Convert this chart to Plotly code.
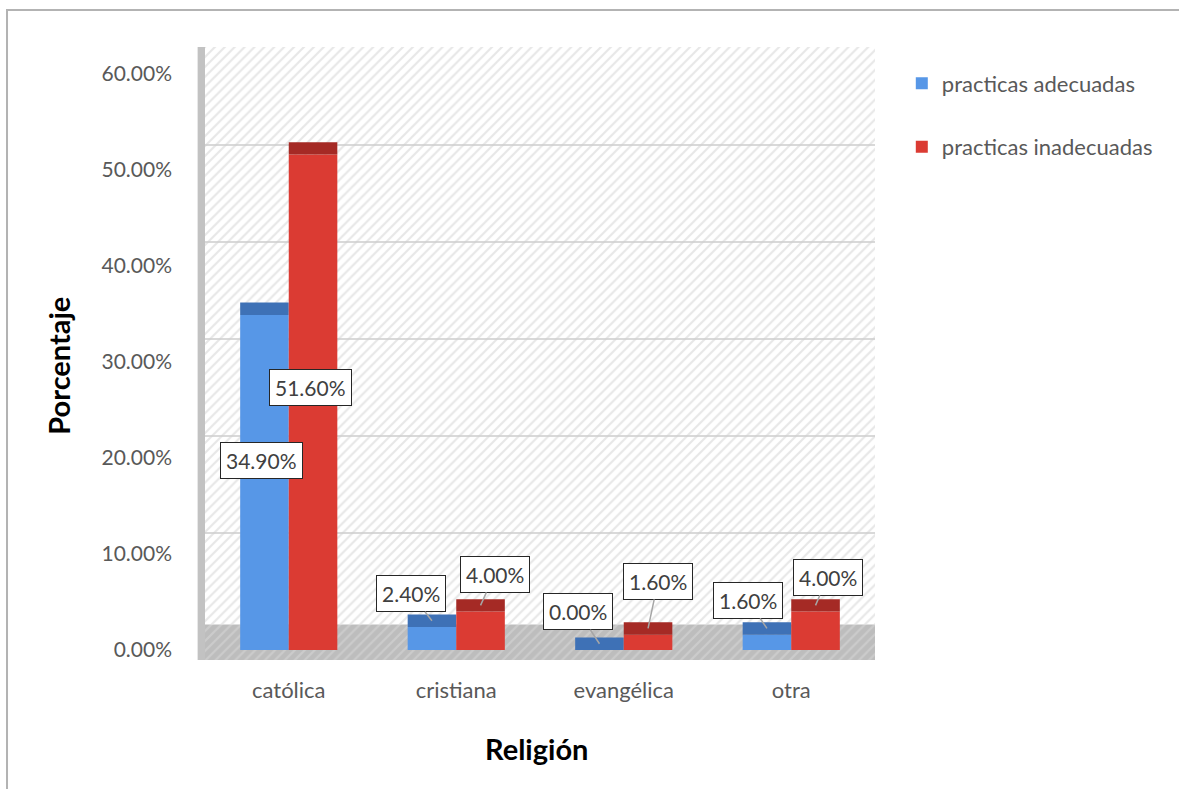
import plotly.graph_objects as go

categories = ["católica", "cristiana", "evangélica", "otra"]
adecuadas = [34.90, 2.40, 0.00, 1.60]
inadecuadas = [51.60, 4.00, 1.60, 4.00]
series_names = ["practicas adecuadas", "practicas inadecuadas"]
y_ticks = [0, 10, 20, 30, 40, 50, 60]
y_tick_labels = ["0.00%", "10.00%", "20.00%", "30.00%", "40.00%", "50.00%", "60.00%"]

# styling
FONT = "Lato"
BLUE, BLUE_TOP = "#5797E7", "#3E71B6"
RED, RED_TOP = "#DB3B33", "#A52A25"
CAP = 1.3  # depth of the pseudo-3D top face, in axis units
BAR_OFF = 0.145
# label box offsets in pixels (ax, ay) and whether to draw a leader
lab_off_a = [(-3, 152, False), (-21, -27, True), (-21, -32, True), (-19, -28, True)]
lab_off_i = [(-3, 239, False), (14, -31, True), (10, -47, True), (12, -28, True)]

xs = list(range(len(categories)))
fig = go.Figure()

# background wall / floor on the base axes
fig.add_trace(go.Scatter(
    x=[0, 1, 1, 0, 0], y=[0.55, 0.55, 60.1, 60.1, 0.55], mode="lines",
    fill="toself", fillcolor="rgba(0,0,0,0)", line=dict(width=0),
    fillpattern=dict(shape="/", fgcolor="#cfcfcf", bgcolor="rgba(0,0,0,0)", size=7, solidity=0.3),
    hoverinfo="skip", showlegend=False, xaxis="x", yaxis="y"))
fig.add_trace(go.Scatter(
    x=[0, 1, 1, 0, 0], y=[-3.1, -3.1, 0.55, 0.55, -3.1], mode="lines",
    fill="toself", fillcolor="#c4c4c4", line=dict(width=0),
    fillpattern=dict(shape="/", fgcolor="#dadada", bgcolor="#bdbdbd", size=7, solidity=0.3),
    hoverinfo="skip", showlegend=False, xaxis="x", yaxis="y"))

# bars
for vals, name, col, top, grp in [(adecuadas, series_names[0], BLUE, BLUE_TOP, "a"),
                                  (inadecuadas, series_names[1], RED, RED_TOP, "b")]:
    fig.add_trace(go.Bar(x=xs, y=vals, name=name, marker=dict(color=col, line=dict(width=0)),
                         offsetgroup=grp, legendgroup=grp, xaxis="x2", yaxis="y2",
                         hovertemplate="%{y:.2f}%<extra>" + name + "</extra>"))
    fig.add_trace(go.Bar(x=xs, y=[CAP] * len(vals), base=vals, marker=dict(color=top, line=dict(width=0)),
                         offsetgroup=grp, showlegend=False, hoverinfo="skip",
                         xaxis="x2", yaxis="y2"))

# data labels
annotations = []
for vals, offs, sgn in [(adecuadas, lab_off_a, -1), (inadecuadas, lab_off_i, 1)]:
    for i, v in enumerate(vals):
        ax, ay, leader = offs[i]
        annotations.append(dict(
            x=i + sgn * BAR_OFF, y=v + CAP / 2, xref="x2", yref="y2",
            text=f"{v:.2f}%", showarrow=True, ax=ax, ay=ay, axref="pixel", ayref="pixel",
            arrowhead=0, arrowwidth=1.5, standoff=0, startstandoff=0,
            arrowcolor="#A6A6A6" if leader else "rgba(0,0,0,0)",
            font=dict(family=FONT, size=21, color="#404040"),
            bgcolor="white", bordercolor="#262626", borderwidth=1, borderpad=5))

# axis titles
annotations.append(dict(text="<b>Porcentaje</b>", xref="paper", yref="paper",
                        x=-0.218, y=0.48, xanchor="center", yanchor="middle",
                        textangle=-90, showarrow=False,
                        font=dict(family=FONT, size=29, color="#000000")))
annotations.append(dict(text="<b>Religión</b>", xref="paper", yref="paper",
                        x=0.4955, y=-0.1436, xanchor="center", yanchor="middle", showarrow=False,
                        font=dict(family=FONT, size=29, color="#000000")))

shapes = [
    # left side wall of the pseudo-3D box
    dict(type="rect", xref="paper", yref="paper", x0=-0.011, x1=0, y0=0.0, y1=1.0,
         fillcolor="#c2c2c2", line=dict(width=0), layer="below"),
    # outer chart border (partly cropped)
    dict(type="rect", xref="paper", yref="paper", x0=-0.2955, x1=1.47, y0=-0.25, y1=1.0604,
         line=dict(color="#b3b3b3", width=2), fillcolor="rgba(0,0,0,0)"),
]

fig.update_layout(
    width=1179, height=789,
    margin=dict(l=205, r=304, t=47, b=129),
    paper_bgcolor="white", plot_bgcolor="white",
    font=dict(family=FONT, size=21, color="#595959"),
    barmode="group", bargap=0.42, bargroupgap=0,
    xaxis=dict(range=[0, 1], visible=False, fixedrange=True),
    yaxis=dict(range=[-3.1, 60.1], tickvals=y_ticks, showticklabels=False,
               showgrid=True, gridcolor="#d9d9d9", gridwidth=2, zeroline=False),
    xaxis2=dict(overlaying="x", anchor="y2", range=[-0.5, 3.5], tickvals=xs, ticktext=categories,
                showgrid=False, zeroline=False, showline=False, ticks="",
                ticklabelstandoff=15, tickfont=dict(family=FONT, size=22, color="#595959")),
    yaxis2=dict(overlaying="y", anchor="x2", side="left", range=[-1.04, 62.81],
                tickvals=y_ticks, ticktext=y_tick_labels, showgrid=False, zeroline=False,
                showline=False, ticks="", ticklabelstandoff=32,
                tickfont=dict(family=FONT, size=21, color="#595959")),
    legend=dict(x=1.04, y=0.975, xanchor="left", yanchor="top", traceorder="grouped",
                tracegroupgap=32, font=dict(family=FONT, size=22, color="#595959"),
                bgcolor="rgba(0,0,0,0)", itemwidth=30),
    annotations=annotations, shapes=shapes,
)

fig.write_html("out.html")
